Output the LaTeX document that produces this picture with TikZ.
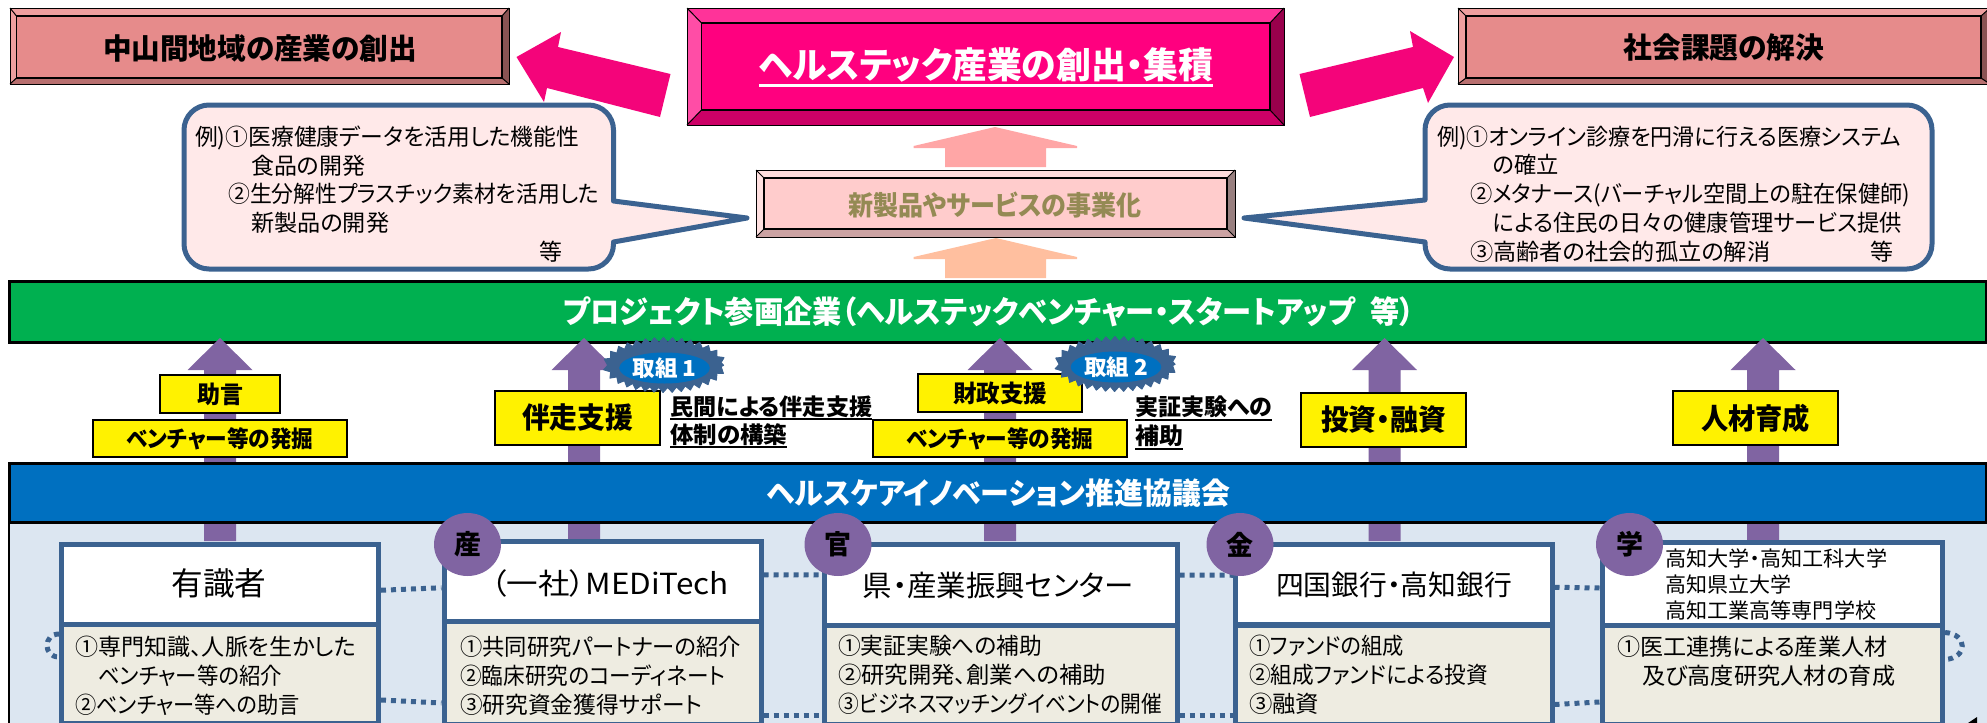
\documentclass[tikz,border=0pt]{standalone}
\usepackage{fontspec}
\setmainfont{Noto Sans CJK JP}[RawFeature=+palt]
\usetikzlibrary{shapes.geometric,decorations.pathmorphing}
\definecolor{edgeblue}{HTML}{3B6290}
\definecolor{barblue}{HTML}{0070C0}
\definecolor{bargreen}{HTML}{00B050}
\definecolor{panelblue}{HTML}{DCE6F1}
\definecolor{purple}{HTML}{8064A2}
\definecolor{hotpink}{HTML}{F4047A}
\definecolor{callfill}{HTML}{FFE9E9}
\definecolor{lowfill}{HTML}{EEECE1}
\definecolor{olivetxt}{HTML}{948A54}
\definecolor{lightrose}{HTML}{FFA6A6}
\definecolor{lightpeach}{HTML}{FFBF9F}
\newcommand{\fs}[2]{\fontsize{#1}{#2}\selectfont}
\newcommand{\fit}[2]{\resizebox{#1pt}{\height}{#2}}
\newcommand{\ultext}[3]{\vtop{\hbox{#1}\kern#2\hrule height #3}}
\tikzset{
    bar/.style={draw=black, line width=3pt, text=white, font=\fs{30}{34}\bfseries},
    yellowbox/.style={draw=black, line width=2.5pt, fill=yellow, inner sep=0pt, font=\fs{#1}{#1}\bfseries},
    topbox/.style={draw=edgeblue, line width=5pt, fill=white, inner sep=0pt},
    lowbox/.style={draw=edgeblue, line width=5pt, fill=lowfill},
    lowtext/.style={anchor=west, align=left, inner sep=0pt, font=\fs{23}{28.8}},
    calltext/.style={anchor=west, align=left, inner sep=0pt, font=\fs{23}{28.8}},
    callout/.style={draw=edgeblue, line width=5pt, fill=callfill, line join=round},
    sector/.style={ellipse, fill=purple, inner sep=0pt, minimum width=67pt, minimum height=63pt, font=\fs{27}{27}\bfseries},
    burst/.style={ellipse, fill=edgeblue, draw=edgeblue, line width=1pt, line join=round, minimum width=118pt, minimum height=50pt,
        decorate, decoration={zigzag, segment length=9pt, amplitude=2.5pt}},
    burstin/.style={ellipse, fill=barblue, inner sep=0pt, minimum width=85pt, minimum height=31pt, text=white, font=\fs{22}{22}\bfseries},
    link/.style={draw=edgeblue, line width=5pt, dash pattern=on 5pt off 5pt},
}
\begin{document}
\begin{tikzpicture}[x=1pt, y=-1pt]
    \useasboundingbox (0,0) rectangle (1987,723);

    \foreach \name/\xa/\ya/\xb/\yb/\xc/\yc/\xd/\yd/\main/\up/\lft/\rgt/\low in {
        left/10/8/509/84/16.5/16/502/78/E68B8B/EE9F9F/EE9F9F/8A5353/B86F6F,
        center/687/8/1284/125/701.5/23/1270/110/FF007F/FF3399/FF4DA6/99004C/CC0066,
        right/1458/8/1990/84/1466/16/1981/78/E68B8B/EE9F9F/EE9F9F/8A5353/B86F6F,
        middle/756/170/1235/237/764/178/1227/229/FFCCCC/FFDCDC/FFE0E0/998080/CCA3A3}{
        \definecolor{cmain}{HTML}{\main}\definecolor{cup}{HTML}{\up}\definecolor{clft}{HTML}{\lft}
        \definecolor{crgt}{HTML}{\rgt}\definecolor{clow}{HTML}{\low}
        \fill[cup] (\xa,\ya) -- (\xb,\ya) -- (\xd,\yc) -- (\xc,\yc) -- cycle;
        \fill[clft] (\xa,\ya) -- (\xa,\yb) -- (\xc,\yd) -- (\xc,\yc) -- cycle;
        \fill[crgt] (\xb,\ya) -- (\xb,\yb) -- (\xd,\yd) -- (\xd,\yc) -- cycle;
        \fill[clow] (\xa,\yb) -- (\xb,\yb) -- (\xd,\yd) -- (\xc,\yd) -- cycle;
        \draw[fill=cmain, line width=1.2pt] (\xc,\yc) rectangle (\xd,\yd);
        \draw[line width=1pt] (\xa,\ya) rectangle (\xb,\yb);
        \draw[line width=1pt] (\xa,\ya) -- (\xc,\yc) (\xb,\ya) -- (\xd,\yc) (\xa,\yb) -- (\xc,\yd) (\xb,\yb) -- (\xd,\yd);
    }
    \node[font=\fs{29}{29}\bfseries] (leftgoal) at (260,48) {\fit{314}{中山間地域の産業の創出}};
    \node[font=\fs{36}{36}\bfseries, text=white] (maingoal) at (986,67) {\ultext{\fit{454}{ヘルステック産業の創出・集積}}{2pt}{2.5pt}};
    \node[font=\fs{29}{29}\bfseries] (rightgoal) at (1724,48) {\fit{201}{社会課題の解決}};
    \node[font=\fs{27}{27}\bfseries, text=olivetxt] (business) at (995,205) {\fit{293}{新製品やサービスの事業化}};

    \fill[hotpink] (516.5,57) -- (561,32) -- (558,47) -- (670.5,74) -- (660,117) -- (547,88) -- (544,102) -- cycle;
    \fill[hotpink] (1454,57) -- (1410,31) -- (1413,47) -- (1299.5,74) -- (1310,117) -- (1423,88) -- (1428,103) -- cycle;
    \fill[lightrose] (995,127) -- (1077,146) -- (1077,148) -- (1046,148) -- (1046,167) -- (945,167) -- (945,148) -- (913.6,148) -- (913.6,146) -- cycle;
    \fill[lightpeach] (996,238) -- (1077,257) -- (1077,259) -- (1046,259) -- (1046,278) -- (945,278) -- (945,259) -- (913.6,259) -- (913.6,257) -- cycle;

    \draw[callout] (747,218) -- (613.5,201) [rounded corners=25pt] -- (613.5,105) -- (184,105) -- (184,269) -- (613.5,269) [sharp corners] -- (613.5,242) -- cycle;
    \draw[callout] (1244,218) -- (1425,200) [rounded corners=25pt] -- (1425,105) -- (1932,105) -- (1932,269) -- (1425,269) [sharp corners] -- (1425,242) -- cycle;
    \node[calltext] (leftnote) at (195,194) {\fit{384}{例)①医療健康データを活用した機能性}\\\hspace*{56pt}\fit{114}{食品の開発}\\\hspace*{33pt}\fit{371}{②生分解性プラスチック素材を活用した}\\\hspace*{56pt}\fit{138}{新製品の開発}\\\hspace*{344pt}等};
    \node[calltext] (rightnote) at (1437,194) {\fit{464}{例)①オンライン診療を円滑に行える医療システム}\\\hspace*{56pt}\fit{66}{の確立}\\\hspace*{33pt}\fit{440}{②メタナース(バーチャル空間上の駐在保健師)}\\\hspace*{56pt}\fit{409}{による住民の日々の健康管理サービス提供}\\\hspace*{33pt}\fit{300}{③高齢者の社会的孤立の解消}\hspace{100pt}等};

    \node[bar, fill=bargreen, minimum width=1977pt, minimum height=61pt, inner sep=0pt] (company) at (998,312) {};
    \node[text=white, font=\fs{31}{31}\bfseries] (companytext) at (988.5,312) {\fit{851}{プロジェクト参画企業（ヘルステックベンチャー・スタートアップ\hspace{16pt}等）}};

    \fill[panelblue] (9,522) rectangle (1987,723);
    \draw[line width=1.5pt] (9,522) -- (9,723);

    \foreach \cx in {220,584,1000,1384.5,1763}
        \fill[purple] (\cx,338) -- ({\cx+32.5},370) -- ({\cx+16},370) -- ({\cx+16},541) -- ({\cx-16},541) -- ({\cx-16},370) -- ({\cx-32.5},370) -- cycle;

    \node[bar, fill=barblue, minimum width=1977pt, minimum height=59pt, inner sep=0pt] (council) at (998,492.5) {};
    \node[text=white, font=\fs{30}{30}\bfseries] (counciltext) at (998.5,493) {\fit{463}{ヘルスケアイノベーション推進協議会}};

    \foreach \name/\cx/\cy/\w/\h/\size/\tw/\txt in {
        advice/220/394/120/38/24/46/助言,
        scout/220/438.5/254/37/23/187/ベンチャー等の発掘,
        support/577.5/418/165/54/29/111/伴走支援,
        finance/1000/393/164/38/24/94/財政支援,
        scouttwo/1000/438.5/254/37/23/187/ベンチャー等の発掘,
        invest/1383.5/420/165/54/29/125/投資・融資,
        talent/1755.5/418/165/54/29/109/人材育成}
        \node[yellowbox=\size, minimum width=\w pt, minimum height=\h pt] (\name) at (\cx,\cy) {\fit{\tw}{\txt}};

    \node[anchor=west, align=left, inner sep=0pt, font=\fs{23}{28}\bfseries] (stepone) at (670,422) {\ultext{\fit{202}{民間による伴走支援}}{1pt}{2pt}\\\ultext{\fit{117}{体制の構築}}{1pt}{2pt}};
    \node[anchor=west, align=left, inner sep=0pt, font=\fs{23}{29}\bfseries] (steptwo) at (1135,423) {\ultext{\fit{137}{実証実験への}}{1pt}{2pt}\\\ultext{\fit{48}{補助}}{1pt}{2pt}};

    \node[burst] (burstone) at (664.5,365) {};
    \node[burstin] (burstonein) at (664.5,368) {\fit{64}{取組 1}};
    \node[burst] (bursttwo) at (1116,364) {};
    \node[burstin] (bursttwoin) at (1116,367) {\fit{64}{取組 2}};

    \foreach \name/\cx/\cy/\w/\h/\ly/\lh in {
        one/220/584.25/317/80.5/674/99.5,
        two/602.5/581.75/317/80.5/673/103,
        three/1000.5/584.5/353/81/674.5/99,
        four/1393.75/584.25/316.5/80.5/674.5/99,
        five/1772.25/583.5/340.5/83/674.5/99}{
        \node[topbox, minimum width=\w pt, minimum height=\h pt] (\name top) at (\cx,\cy) {};
        \node[lowbox, minimum width=\w pt, minimum height=\lh pt] (\name low) at (\cx,\ly) {};
    }

    \node[font=\fs{32}{32}] (onename) at (219,583) {\fit{95}{有識者}};
    \node[font=\fs{29}{29}] (twoname) at (610,583) {\fit{238}{（一社）MEDiTech}};
    \node[font=\fs{29}{29}] (threename) at (998.5,585) {\fit{271}{県・産業振興センター}};
    \node[font=\fs{28}{28}] (fourname) at (1394,585) {\fit{236}{四国銀行・高知銀行}};
    \node[anchor=west, align=left, inner sep=0pt, font=\fs{21}{26}] (fivename) at (1665,584) {\fit{222}{高知大学・高知工科大学}\\\fit{126}{高知県立大学}\\\fit{211}{高知工業高等専門学校}};

    \node[lowtext] (onetext) at (75,676) {\fit{281}{①専門知識、人脈を生かした}\\\hspace*{23pt}\fit{184}{ベンチャー等の紹介}\\\fit{225}{②ベンチャー等への助言}};
    \node[lowtext] (twotext) at (460,676) {\fit{281}{①共同研究パートナーの紹介}\\\fit{265}{②臨床研究のコーディネート}\\\fit{242}{③研究資金獲得サポート}};
    \node[lowtext] (threetext) at (838,675) {\fit{204}{①実証実験への補助}\\\fit{268}{②研究開発、創業への補助}\\\fit{324}{③ビジネスマッチングイベントの開催}};
    \node[lowtext] (fourtext) at (1249,675) {\fit{155}{①ファンドの組成}\\\fit{239}{②組成ファンドによる投資}\\\fit{70}{③融資}};
    \node[lowtext] (fivetext) at (1617,661) {\fit{270}{①医工連携による産業人材}\\\hspace*{25pt}\fit{253}{及び高度研究人材の育成}};

    \draw[link] ([yshift=-6pt]onetop.east) -- ([yshift=-6pt]twotop.west);
    \draw[link] ([yshift=7pt]twotop.east) -- ([yshift=9.5pt]threetop.west);
    \draw[link] ([yshift=9.5pt]threetop.east) -- ([yshift=9pt]fourtop.west);
    \draw[link] ([yshift=-3pt]fourtop.east) -- ([yshift=-4.5pt]fivetop.west);
    \draw[link] ([yshift=-26pt]onelow.east) -- ([yshift=-30pt]twolow.west);
    \draw[link] ([yshift=-42pt]twolow.east) -- ([yshift=-40.5pt]threelow.west);
    \draw[link] ([yshift=-40.5pt]threelow.east) -- ([yshift=-40.5pt]fourlow.west);
    \draw[link] ([yshift=-30pt]fourlow.east) -- ([yshift=-27.5pt]fivelow.west);
    \draw[link] ([yshift=40pt]onelow.west) .. controls (43,634) and (43,657) .. ([yshift=17pt]onelow.west);
    \draw[link] ([yshift=42pt]fivelow.east) .. controls (1968,634) and (1968,658) .. ([yshift=15pt]fivelow.east);

    \node[sector] (sanga) at (467.5,544.5) {産};
    \node[sector] (kan) at (838,544.5) {官};
    \node[sector] (kin) at (1240,544.5) {金};
    \node[sector] (gaku) at (1629.5,544.5) {学};

    \fill (1968,723) -- (1977,717) -- (1977,723) -- cycle;
\end{tikzpicture}
\end{document}
